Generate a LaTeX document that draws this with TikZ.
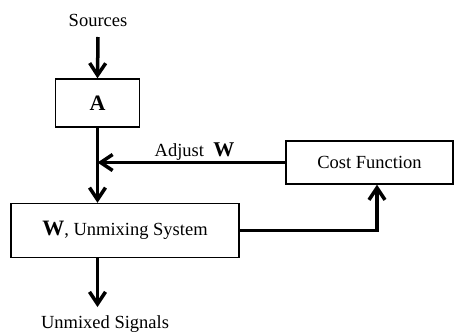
\documentclass[tikz,border=0pt]{standalone}
\usepackage{fontspec}
\setmainfont{Liberation Serif}
\usetikzlibrary{arrows.meta,positioning}

\tikzset{
  blockbox/.style={draw,line width=1.4pt,inner sep=0pt,align=center},
  sigline/.style={line width=3.5pt,-{Straight Barb[length=12pt,width=16pt]}}
}
\newcommand{\bigbf}[1]{{\fontsize{22}{24}\selectfont\bfseries #1}}

\begin{document}
\begin{tikzpicture}[x=1pt,y=-1pt,font=\fontsize{18.5}{22}\selectfont]
  \useasboundingbox (0,0) rectangle (455,332);

  % Blocks
  \node[blockbox,minimum width=84pt,minimum height=48pt] (blkA) at (97.5,103) {\bigbf{A}};
  \node[blockbox,minimum width=228pt,minimum height=54pt] (blkW) at (125,230.5) {\bigbf{W}, Unmixing System};
  \node[blockbox,minimum width=167pt,minimum height=43pt] (cost) at (369.5,162.5) {Cost Function};

  % Labels
  \node[inner sep=0pt,anchor=base] (src) at (98,26) {Sources};
  \node[inner sep=0pt,anchor=base] (adj) at (194.5,156) {Adjust\ \ {\fontsize{21}{24}\selectfont\bfseries W}};
  \node[inner sep=0pt,anchor=base] (outlbl) at (105,328) {Unmixed Signals};
  \coordinate (out) at (97.5,307);

  % Signal path
  \draw[sigline] ([yshift=-11pt]src.base) -- (blkA.north);
  \draw[sigline] (blkA.south) -- (blkA.south |- blkW.north);
  \draw[sigline] (blkA.south |- blkW.south) -- (out);

  % Feedback loop
  \draw[sigline] (blkW.east) -| ([xshift=7.5pt]cost.south);
  \draw[sigline] (cost.west) -- (cost.west -| blkA.south);
\end{tikzpicture}
\end{document}
